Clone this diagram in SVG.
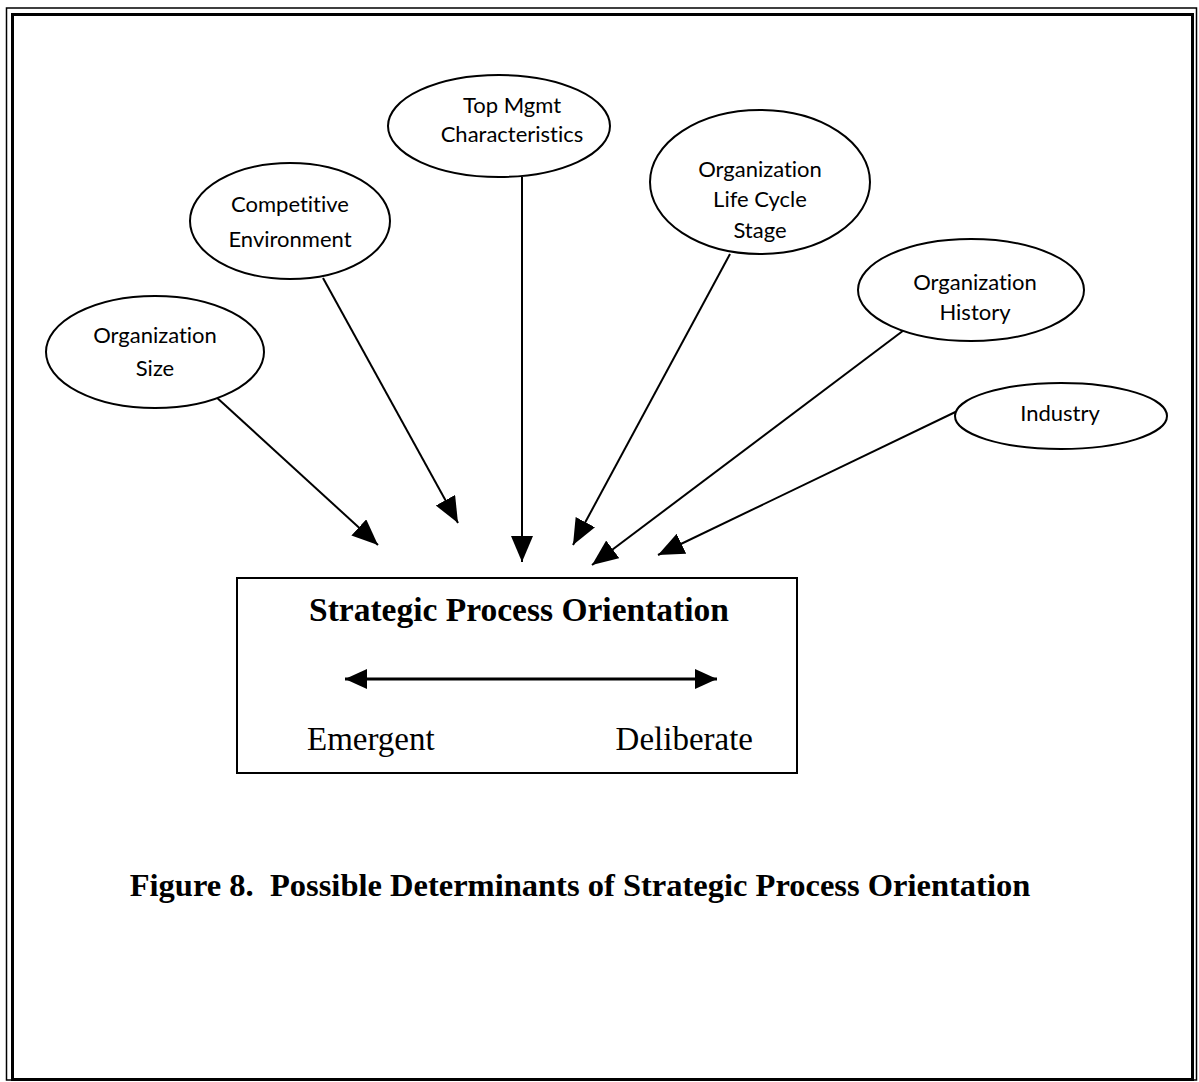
<svg xmlns="http://www.w3.org/2000/svg" width="1199" height="1082" viewBox="0 0 1199 1082">
<style>
.el{fill:#fff;stroke:#000;stroke-width:2}
.lbl{font-family:Lato,"Liberation Sans",Arial,sans-serif;font-size:22px;text-anchor:middle;fill:#000;font-variant-ligatures:none;font-feature-settings:"liga" 0}
.ser{font-family:"Liberation Serif","Times New Roman",serif;fill:#000}
.con{stroke:#000;stroke-width:2;fill:none}
</style>
<defs>
<marker id="ah" markerUnits="userSpaceOnUse" markerWidth="28" markerHeight="24" refX="26" refY="11" orient="auto">
<path d="M0,0 L26,11 L0,22 z" fill="#000"/>
</marker>
<marker id="ah2" markerUnits="userSpaceOnUse" markerWidth="24" markerHeight="22" refX="22" refY="10" orient="auto-start-reverse">
<path d="M0,0 L22,10 L0,20 z" fill="#000"/>
</marker>
</defs>
<rect x="6.5" y="8" width="1190" height="1072" fill="none" stroke="#000" stroke-width="1.5"/>
<rect x="12.5" y="14.5" width="1180" height="1065" fill="none" stroke="#000" stroke-width="3"/>
<g id="connectors">
<line class="con" x1="203" y1="385" x2="378" y2="545" marker-end="url(#ah)"/>
<line class="con" x1="323" y1="278" x2="458" y2="523" marker-end="url(#ah)"/>
<line class="con" x1="522" y1="177" x2="522" y2="562" marker-end="url(#ah)"/>
<line class="con" x1="730" y1="254" x2="573" y2="545" marker-end="url(#ah)"/>
<line class="con" x1="920" y1="318" x2="592" y2="565" marker-end="url(#ah)"/>
<line class="con" x1="972" y1="404" x2="658" y2="555" marker-end="url(#ah)"/>
</g>
<g id="org-size">
<ellipse class="el" cx="155" cy="352" rx="109" ry="56"/>
<text class="lbl" x="155" y="343">Organization</text>
<text class="lbl" x="155" y="376">Size</text>
</g>
<g id="competitive-environment">
<ellipse class="el" cx="290" cy="221" rx="100" ry="58"/>
<text class="lbl" x="290" y="212">Competitive</text>
<text class="lbl" x="290" y="247">Environment</text>
</g>
<g id="top-mgmt">
<ellipse class="el" cx="499" cy="126" rx="111" ry="51"/>
<text class="lbl" x="512" y="113">Top Mgmt</text>
<text class="lbl" x="512" y="142">Characteristics</text>
</g>
<g id="life-cycle">
<ellipse class="el" cx="760" cy="182" rx="110" ry="72"/>
<text class="lbl" x="760" y="177">Organization</text>
<text class="lbl" x="760" y="207">Life Cycle</text>
<text class="lbl" x="760" y="238">Stage</text>
</g>
<g id="org-history">
<ellipse class="el" cx="971" cy="290" rx="113" ry="51"/>
<text class="lbl" x="975" y="290">Organization</text>
<text class="lbl" x="975" y="320">History</text>
</g>
<g id="industry">
<ellipse class="el" cx="1061" cy="416" rx="106" ry="33"/>
<text class="lbl" x="1060" y="421">Industry</text>
</g>
<g id="strategic-process-orientation">
<rect x="237" y="578" width="560" height="195" fill="#fff" stroke="#000" stroke-width="2"/>
<text class="ser" x="519" y="621" font-size="33.5" font-weight="bold" text-anchor="middle">Strategic Process Orientation</text>
<line x1="345" y1="679" x2="717" y2="679" stroke="#000" stroke-width="3" marker-start="url(#ah2)" marker-end="url(#ah2)"/>
<text class="ser" x="307" y="750" font-size="33">Emergent</text>
<text class="ser" x="753" y="750" font-size="33" text-anchor="end">Deliberate</text>
</g>
<text class="ser" x="580" y="896" font-size="32.5" font-weight="bold" text-anchor="middle">Figure 8.&#160; Possible Determinants of Strategic Process Orientation</text>
</svg>
